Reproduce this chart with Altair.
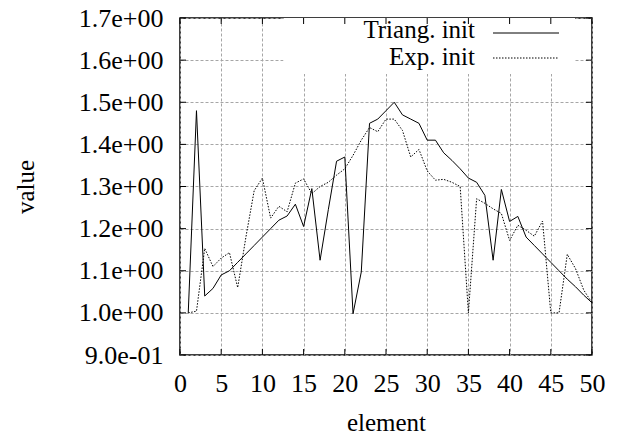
import altair as alt
import pandas as pd

# x positions (element index)
elements = list(range(1, 51))

triang_init = [1.000, 1.480, 1.040, 1.058, 1.090, 1.100, 1.120, 1.140, 1.160, 1.180,
               1.200, 1.220, 1.230, 1.258, 1.205, 1.295, 1.125, 1.245, 1.360, 1.370,
               0.998, 1.097, 1.450, 1.460, 1.480, 1.500, 1.470, 1.460, 1.450, 1.410,
               1.410, 1.380, 1.362, 1.342, 1.320, 1.310, 1.279, 1.125, 1.293, 1.217,
               1.229, 1.180, 1.160, 1.140, 1.120, 1.100, 1.080, 1.062, 1.042, 1.024]

exp_init = [1.000, 1.004, 1.153, 1.110, 1.130, 1.143, 1.060, 1.180, 1.290, 1.320,
            1.225, 1.253, 1.240, 1.308, 1.318, 1.283, 1.300, 1.310, 1.327, 1.342,
            1.374, 1.410, 1.440, 1.430, 1.460, 1.460, 1.433, 1.370, 1.388, 1.337,
            1.315, 1.317, 1.310, 1.300, 1.000, 1.271, 1.260, 1.247, 1.236, 1.172,
            1.208, 1.196, 1.182, 1.218, 1.000, 1.000, 1.139, 1.105, 1.054, 1.024]

series_names = ["Triang. init", "Exp. init"]
x_ticks = [0, 5, 10, 15, 20, 25, 30, 35, 40, 45, 50]
y_ticks = [0.9, 1.0, 1.1, 1.2, 1.3, 1.4, 1.5, 1.6, 1.7]

FONT = "Liberation Serif"
W, H = 412, 337

df_t = pd.DataFrame({"element": elements, "value": triang_init})
df_e = pd.DataFrame({"element": elements, "value": exp_init})

xs = alt.Scale(domain=[0, 50], nice=False, zero=False)
ys = alt.Scale(domain=[0.9, 1.7], nice=False, zero=False)

x_axis = alt.Axis(values=x_ticks, grid=True, gridColor="#a6a6a6", gridDash=[3, 2],
                  gridWidth=1, ticks=False, domain=False, labelFont=FONT,
                  labelFontSize=26, labelColor="black", labelPadding=15,
                  labelFlush=False, title="element", titleFont=FONT,
                  titleFontSize=25, titleFontWeight="normal", titleColor="black",
                  titleX=W / 2, titleY=67, titleBaseline="middle", titleAnchor="middle")
y_axis = alt.Axis(values=y_ticks, grid=True, gridColor="#a6a6a6", gridDash=[3, 2],
                  gridWidth=1, ticks=False, domain=False, labelFont=FONT,
                  labelFontSize=26, labelColor="black", labelPadding=17,
                  labelFlush=False,
                  labelExpr="datum.value < 0.95 ? format(datum.value*10,'.1f') + 'e-01' : format(datum.value,'.1f') + 'e+00'",
                  title="value", titleFont=FONT, titleFontSize=25,
                  titleFontWeight="normal", titleColor="black", titleX=-155,
                  titleY=H / 2, titleBaseline="middle", titleAngle=270)

base_grid = alt.Chart(df_t).mark_line(opacity=0).encode(
    x=alt.X("element:Q", scale=xs, axis=x_axis),
    y=alt.Y("value:Q", scale=ys, axis=y_axis),
)

one = alt.Data(values=[{"a": 1}])

legend_box = alt.Chart(one).mark_rect(color="white").encode(
    x=alt.value(103.5), x2=alt.value(395), y=alt.value(0), y2=alt.value(56))

line_t = alt.Chart(df_t).mark_line(color="black", strokeWidth=1).encode(
    x=alt.X("element:Q", scale=xs), y=alt.Y("value:Q", scale=ys))
line_e = alt.Chart(df_e).mark_line(color="black", strokeWidth=1, strokeDash=[1.5, 1.5]).encode(
    x=alt.X("element:Q", scale=xs), y=alt.Y("value:Q", scale=ys))

xt = pd.DataFrame({"t": x_ticks})
yt = pd.DataFrame({"t": y_ticks})
tick_b = alt.Chart(xt).mark_rule(color="black", strokeWidth=1).encode(
    x=alt.X("t:Q", scale=xs), y=alt.value(H), y2=alt.value(H - 6))
tick_top = alt.Chart(xt).mark_rule(color="black", strokeWidth=1).encode(
    x=alt.X("t:Q", scale=xs), y=alt.value(0), y2=alt.value(6))
tick_l = alt.Chart(yt).mark_rule(color="black", strokeWidth=1).encode(
    y=alt.Y("t:Q", scale=ys), x=alt.value(0), x2=alt.value(6))
tick_r = alt.Chart(yt).mark_rule(color="black", strokeWidth=1).encode(
    y=alt.Y("t:Q", scale=ys), x=alt.value(W), x2=alt.value(W - 6))

leg_text_t = alt.Chart(alt.Data(values=[{"s": series_names[0]}])).mark_text(
    font=FONT, fontSize=25, align="right", baseline="middle", color="black").encode(
    text="s:N", x=alt.value(295), y=alt.value(12))
leg_text_e = alt.Chart(alt.Data(values=[{"s": series_names[1]}])).mark_text(
    font=FONT, fontSize=25, align="right", baseline="middle", color="black").encode(
    text="s:N", x=alt.value(295), y=alt.value(39))
leg_line_t = alt.Chart(one).mark_rule(color="black", strokeWidth=1).encode(
    x=alt.value(313), x2=alt.value(379), y=alt.value(15))
leg_line_e = alt.Chart(one).mark_rule(color="black", strokeWidth=1, strokeDash=[1.5, 1.5]).encode(
    x=alt.value(313), x2=alt.value(379), y=alt.value(40))

chart = alt.layer(
    base_grid, legend_box, line_t, line_e, tick_b, tick_top, tick_l, tick_r,
    leg_text_t, leg_text_e, leg_line_t, leg_line_e
).properties(
    width=W, height=H,
    autosize=alt.AutoSizeParams(type="none"),
    padding={"left": 180, "top": 18, "right": 26, "bottom": 81},
    background="white",
).configure_view(stroke="black", strokeWidth=1.5)

chart.save("out.html", embed_options={"renderer": "svg", "actions": False})
